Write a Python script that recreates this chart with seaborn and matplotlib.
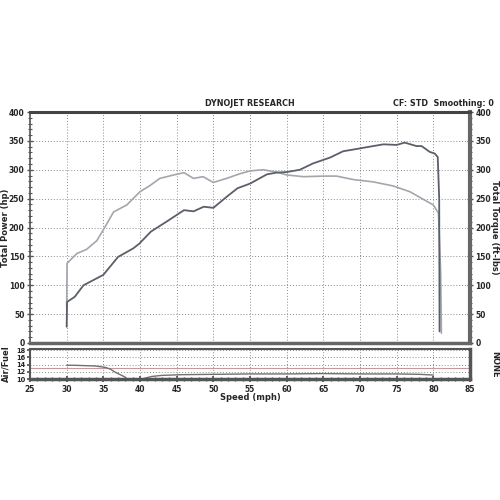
import matplotlib
matplotlib.use("Agg")
import matplotlib.pyplot as plt
from matplotlib.ticker import MultipleLocator
import numpy as np
import pandas as pd
import seaborn as sns

# values
hp_speed = [30.0, 30.05, 31.1, 32.3, 35.0, 36.1, 37.0, 39.1, 39.9, 41.5, 43.6, 46.0, 47.3,
            48.7, 50.0, 51.8, 53.3, 55.0, 57.3, 58.6, 60.0, 61.8, 63.6, 65.9, 67.7, 70.0,
            71.8, 73.2, 75.0, 76.1, 77.7, 78.4, 79.5, 80.2, 80.6, 80.8, 80.85]
hp = [28, 71, 80, 100, 118, 135, 149, 164, 172, 193, 210, 230, 228,
      236, 234, 253, 268, 276, 292, 295, 296, 300, 311, 321, 332, 337,
      341, 344, 343, 347, 341, 341, 331, 328, 322, 250, 20]

tq_speed = [30.0, 30.05, 31.4, 32.7, 34.1, 35.0, 36.4, 38.2, 40.0, 41.4, 42.7, 44.6, 46.0,
            47.3, 48.6, 50.0, 51.8, 53.6, 55.0, 56.8, 58.6, 60.0, 62.3, 65.0, 66.8, 69.1,
            71.8, 74.5, 76.8, 78.6, 80.0, 80.7, 81.0, 81.1]
torque = [60, 138, 155, 162, 177, 196, 227, 239, 262, 273, 285, 291, 295,
          285, 288, 278, 285, 293, 298, 300, 296, 291, 288, 289, 289, 283,
          279, 272, 262, 249, 239, 225, 120, 17]

afr_speed = [30.0, 31.0, 32.5, 33.9, 35.3, 36.0, 36.6, 37.3, 38.0, 38.2, 38.6,
             39.8, 40.3, 41.0, 41.6, 43.0, 45.8, 50.4, 55.0, 60.0, 65.0, 70.0, 75.0, 78.0, 80.0]
afr = [13.8, 13.8, 13.7, 13.6, 13.2, 12.7, 11.9, 11.2, 10.5, 10.0, 9.0,
       9.0, 10.0, 10.4, 10.7, 11.0, 11.2, 11.3, 11.4, 11.4, 11.5, 11.4, 11.4, 11.3, 11.1]
afr_target = 13.1

power_df = pd.DataFrame({"speed": hp_speed, "value": hp})
torque_df = pd.DataFrame({"speed": tq_speed, "value": torque})
afr_df = pd.DataFrame({"speed": afr_speed, "afr": afr})

sns.set_theme(style="white")
plt.rcParams["font.family"] = ["DejaVu Sans"]
plt.rcParams["font.weight"] = "bold"

fig = plt.figure(figsize=(5, 5), dpi=100)
ax = fig.add_axes([0.06, 0.314, 0.88, 0.462])
ax2 = fig.add_axes([0.06, 0.242, 0.88, 0.06], sharex=ax)

sns.lineplot(data=torque_df, x="speed", y="value", ax=ax, color="#a3a6ad", lw=1.2,
             sort=False, estimator=None)
sns.lineplot(data=power_df, x="speed", y="value", ax=ax, color="#5a5f6a", lw=1.3,
             sort=False, estimator=None)

ax.set_xlim(25, 85)
ax.set_ylim(0, 400)
ax.xaxis.set_major_locator(MultipleLocator(5))
ax.yaxis.set_major_locator(MultipleLocator(50))
ax.yaxis.set_minor_locator(MultipleLocator(10))
ax.grid(True, which="major", linestyle=(0, (1, 2)), color="#8a8a8a", lw=0.7)
ax.tick_params(axis="y", which="both", left=True, right=True, labelleft=True,
               labelright=True, direction="inout", color="#555555", labelsize=5.5, pad=1.5)
ax.tick_params(axis="y", which="major", length=5, width=1)
ax.tick_params(axis="y", which="minor", length=3, width=0.8)
ax.tick_params(axis="x", bottom=False, labelbottom=False)
ax.set_xlabel("")
ax.set_ylabel("")
for lab in ax.get_yticklabels():
    lab.set_fontweight("bold")
ax.spines["top"].set_linewidth(2.2)
ax.spines["top"].set_color("#444444")
ax.spines["right"].set_linewidth(3)
ax.spines["right"].set_color("#666666")
ax.spines["bottom"].set_linewidth(2.5)
ax.spines["bottom"].set_color("#666666")
ax.spines["left"].set_linewidth(1.2)
ax.spines["left"].set_color("#555555")

# air/fuel strip
ax2.axhline(afr_target, color="#e58a98", lw=0.8)
sns.lineplot(data=afr_df, x="speed", y="afr", ax=ax2, color="#707070", lw=1.0,
             sort=False, estimator=None)
ax2.set_ylim(10, 18.3)
ax2.set_yticks([10, 12, 14, 16, 18])
ax2.xaxis.set_minor_locator(MultipleLocator(1))
ax2.grid(True, which="major", linestyle=(0, (1, 2)), color="#8a8a8a", lw=0.7)
ax2.tick_params(axis="y", left=True, labelsize=4.8, pad=1, length=2, color="#555555")
ax2.tick_params(axis="x", which="both", bottom=True, direction="inout", labelsize=5.5,
                pad=2, color="#555555")
ax2.tick_params(axis="x", which="major", length=4)
ax2.tick_params(axis="x", which="minor", length=3)
ax2.set_xlabel("")
ax2.set_ylabel("")
for lab in ax2.get_xticklabels() + ax2.get_yticklabels():
    lab.set_fontweight("bold")
for side in ["top", "right", "bottom", "left"]:
    ax2.spines[side].set_color("#555555")
    ax2.spines[side].set_linewidth(1.5)
ax2.spines["bottom"].set_linewidth(2.5)
ax2.spines["right"].set_linewidth(2.5)

fig.text(0.5, 0.794, "DYNOJET RESEARCH", ha="center", va="center", fontsize=5.8, weight="bold")
fig.text(0.988, 0.794, "CF: STD  Smoothing: 0", ha="right", va="center", fontsize=5.8,
         weight="bold")
fig.text(0.011, 0.545, "Total Power (hp)", rotation=90, ha="center", va="center",
         fontsize=6, weight="bold")
fig.text(0.99, 0.545, "Total Torque (ft-lbs)", rotation=270, ha="center", va="center",
         fontsize=6, weight="bold")
fig.text(0.011, 0.272, "Air/Fuel", rotation=90, ha="center", va="center",
         fontsize=6, weight="bold")
fig.text(0.99, 0.272, "NONE", rotation=270, ha="center", va="center",
         fontsize=6, weight="bold")
fig.text(0.5, 0.206, "Speed (mph)", ha="center", va="center", fontsize=6, weight="bold")

fig.savefig("out.png", dpi=100)
